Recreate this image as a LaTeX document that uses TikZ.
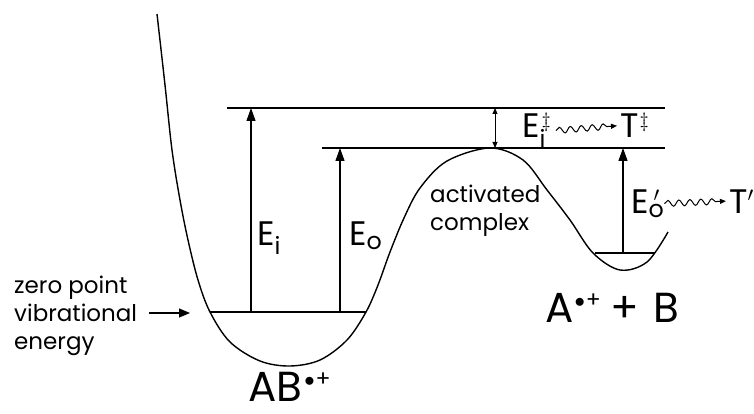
\documentclass[tikz,border=0pt]{standalone}
\usepackage{fontspec}
\setmainfont{Poppins}
\usetikzlibrary{arrows.meta,positioning,decorations.pathmorphing}

\newcommand{\lblsize}{\fontsize{23}{28}\selectfont}
\newcommand{\symsize}{\fontsize{34}{36}\selectfont}
\newcommand{\bigsize}{\fontsize{42}{46}\selectfont}
% raised radical-cation mark and small superscripts
\newcommand{\radplus}{\raisebox{15pt}{\fontsize{22}{22}\selectfont$\bullet$\kern1pt+}}
\newcommand{\dagmark}{\raisebox{10pt}{\fontsize{21}{21}\selectfont$\ddagger$}}
\newcommand{\primemark}{\raisebox{12pt}{\fontsize{20}{20}\selectfont$\prime$}}

\begin{document}
\begin{tikzpicture}[x=1pt,y=-1pt,>={Triangle[length=13pt,width=9pt]},
  curve/.style={line width=1.4pt,line join=round},
  level/.style={line width=1.3pt},
  uparrow/.style={->,line width=1.2pt},
  bothway/.style={<->,>={Triangle[length=6pt,width=5pt]},line width=1pt},
  wavy/.style={->,>={Triangle[length=6pt,width=5pt]},line width=1pt,decorate,
    decoration={snake,amplitude=3pt,segment length=11pt,post length=6pt}},
  txt/.style={inner sep=0pt,font=\lblsize}]
\useasboundingbox (0,0) rectangle (754,414);

% potential energy curve
\draw[curve] plot[smooth,tension=0.55] coordinates {(157,14) (165,85) (172,150)
  (180,200) (188,240) (198,280) (210,312) (230,342) (260,361) (290,366)
  (320,360) (347,340) (366,312) (378,285) (390,252) (404,218) (420,188)
  (447,161) (490,148) (523,160) (547,190) (570,220) (593,253) (620,270)
  (647,262) (668,232)};

% energy levels
\coordinate (wellL) at (210,312);
\coordinate (wellR) at (366,312);
\coordinate (topL) at (227,108);
\coordinate (topR) at (665,108);
\coordinate (midL) at (322,148);
\coordinate (midR) at (665,148);
\coordinate (rwL) at (595,253);
\coordinate (rwR) at (655,253);
\draw[level] (wellL) -- (wellR);
\draw[level] (topL) -- (topR);
\draw[level] (midL) -- (midR);
\draw[level] (rwL) -- (rwR);

% excitation arrows
\coordinate (eiB) at (251,312);
\coordinate (eiT) at (251,108);
\coordinate (eoB) at (340,312);
\coordinate (eoT) at (340,148);
\coordinate (edT) at (495,108);
\coordinate (edB) at (495,148);
\coordinate (erB) at (623,253);
\coordinate (erT) at (623,148);
\draw[uparrow] (eiB) -- (eiT);
\draw[uparrow] (eoB) -- (eoT);
\draw[bothway] (edT) -- (edB);
\draw[uparrow] (erB) -- (erT);

% labels
\node[txt,font=\symsize,anchor=base west] (Ei) at (257,245) {E\textsubscript{i}};
\node[txt,font=\symsize,anchor=base west] (Eo) at (349,245) {E\textsubscript{o}};
\node[txt,font=\symsize,anchor=base west] (Edag) at (522,138)
  {E\rlap{\textsubscript{i}}\kern2pt\dagmark};
\node[txt,font=\symsize,anchor=base west] (Tdag) at (620,138) {T\kern1pt\dagmark};
\node[txt,font=\symsize,anchor=base west] (Epr) at (631,213)
  {E\rlap{\textsubscript{o}}\kern5pt\primemark};
\node[txt,font=\symsize,anchor=base west] (Tpr) at (729,213) {T\primemark};
\draw[wavy] ([xshift=5pt]Edag.east) -- ([xshift=-3pt]Tdag.west);
\draw[wavy] ([xshift=5pt]Epr.east) -- ([xshift=-3pt]Tpr.west);

\node[txt,align=left,anchor=base west] (actc) at (430,230) {activated\\complex};

\node[txt,align=left,anchor=west] (zpe) at (14,316) {zero point\\vibrational\\energy};
\coordinate (zpTip) at (190,313);
\draw[->,line width=1.2pt,>={Triangle[length=11pt,width=9pt]}]
  ([xshift=12pt]zpe.east |- zpTip) -- (zpTip);

\node[txt,font=\bigsize,anchor=base west] (ab) at (248,401) {AB\kern2pt\radplus};
\node[txt,font=\bigsize,anchor=base west] (apb) at (545,322)
  {A\kern1pt\radplus\hspace{10pt}+\hspace{14pt}B};
\end{tikzpicture}
\end{document}
